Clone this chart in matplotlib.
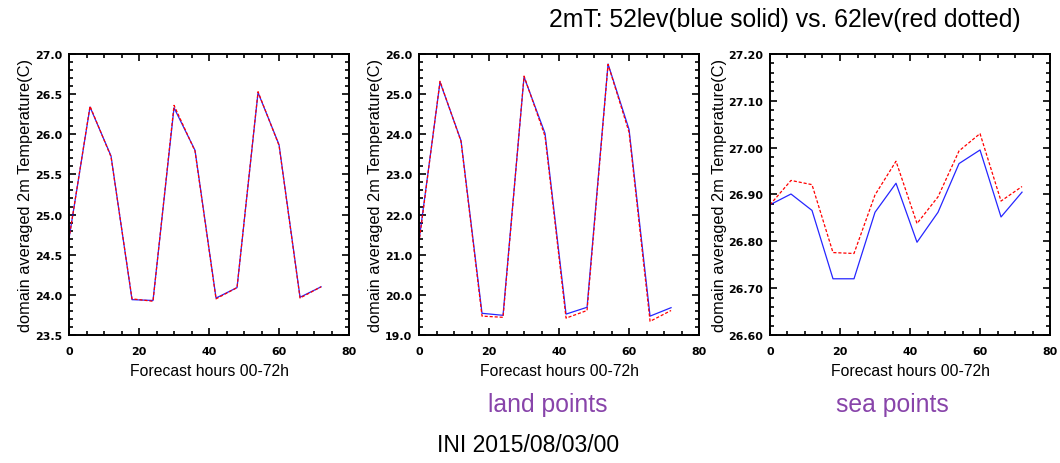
import numpy as np
import matplotlib
matplotlib.use("Agg")
import matplotlib.pyplot as plt
from matplotlib.ticker import MultipleLocator, FormatStrFormatter

plt.rcParams['font.family'] = ['Liberation Sans', 'DejaVu Sans']

# forecast hours
hours = [0, 6, 12, 18, 24, 30, 36, 42, 48, 54, 60, 66, 72]

# all points
all_52 = [24.70, 26.34, 25.73, 23.94, 23.93, 26.33, 25.80, 23.96, 24.09, 26.52, 25.87, 23.97, 24.10]
all_62 = [24.70, 26.35, 25.72, 23.95, 23.92, 26.36, 25.79, 23.95, 24.09, 26.53, 25.86, 23.96, 24.10]

# land points
land_52 = [21.35, 25.30, 23.84, 19.54, 19.49, 25.43, 24.02, 19.52, 19.69, 25.75, 24.12, 19.47, 19.68]
land_62 = [21.30, 25.32, 23.82, 19.47, 19.44, 25.45, 23.95, 19.42, 19.61, 25.74, 24.05, 19.34, 19.61]

# sea points
sea_52 = [26.878, 26.901, 26.866, 26.720, 26.720, 26.862, 26.924, 26.798, 26.862, 26.966, 26.995, 26.852, 26.905]
sea_62 = [26.878, 26.930, 26.921, 26.776, 26.774, 26.899, 26.971, 26.838, 26.895, 26.993, 27.030, 26.886, 26.917]

panels = [
    (all_52, all_62, (23.5, 27.0), 0.5, 0.1, '%.1f'),
    (land_52, land_62, (19.0, 26.0), 1.0, 0.2, '%.1f'),
    (sea_52, sea_62, (26.6, 27.2), 0.1, 0.02, '%.2f'),
]
lefts = [0.0651, 0.3953, 0.7264]

fig = plt.figure(figsize=(10.6, 4.64), dpi=100)

for (b, r, ylim, major, minor, fmt), left in zip(panels, lefts):
    ax = fig.add_axes([left, 0.2759, 0.2642, 0.6056])
    ax.plot(hours, b, color='blue', lw=0.9, alpha=0.85)
    ax.plot(hours, r, color='red', lw=0.9, linestyle=(0, (2.5, 1.5)))
    ax.set_xlim(0, 80)
    ax.set_ylim(*ylim)
    ax.xaxis.set_major_locator(MultipleLocator(20))
    ax.xaxis.set_minor_locator(MultipleLocator(5))
    ax.yaxis.set_major_locator(MultipleLocator(major))
    ax.yaxis.set_minor_locator(MultipleLocator(minor))
    ax.yaxis.set_major_formatter(FormatStrFormatter(fmt))
    ax.tick_params(which='both', direction='in', top=True, right=True, width=1.2)
    ax.tick_params(which='major', length=5)
    ax.tick_params(which='minor', length=3)
    ax.tick_params(axis='x', which='major', pad=8)
    ax.tick_params(axis='y', which='major', pad=5)
    for lab in ax.get_xticklabels() + ax.get_yticklabels():
        lab.set_fontfamily('DejaVu Sans')
        lab.set_fontweight('bold')
        lab.set_fontsize(7.9)
    for sp in ax.spines.values():
        sp.set_linewidth(1.4)
    ax.set_xlabel('Forecast hours 00-72h', fontsize=11.3, labelpad=5)
    ax.set_ylabel('domain averaged 2m Temperature(C)', fontsize=11.8, labelpad=1)

fig.text(785 / 1060, 1 - 20 / 464, '2mT: 52lev(blue solid) vs. 62lev(red dotted)',
         ha='center', va='center', fontsize=17.8)
fig.text(548 / 1060, 1 - 405 / 464, 'land points', ha='center', va='center',
         fontsize=17.8, color='#8844aa')
fig.text(892 / 1060, 1 - 405 / 464, 'sea points', ha='center', va='center',
         fontsize=17.8, color='#8844aa')
fig.text(528 / 1060, 1 - 446 / 464, 'INI 2015/08/03/00', ha='center', va='center',
         fontsize=16.5)

fig.savefig('out.png', dpi=100)
